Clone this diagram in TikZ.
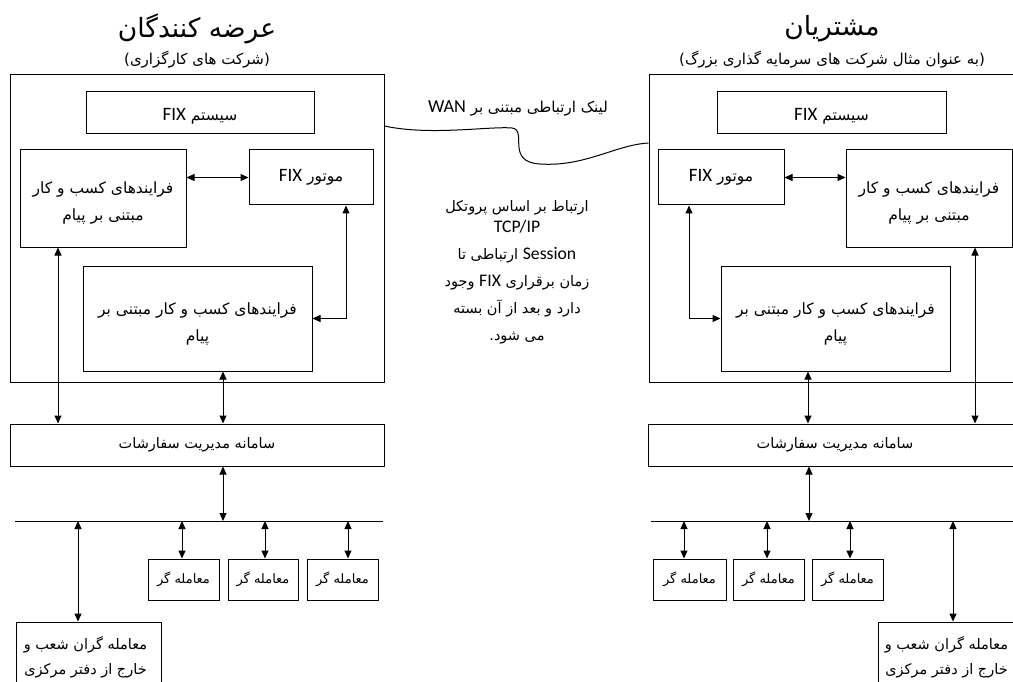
\documentclass[tikz,border=0pt]{standalone}
\usepackage{fontspec}
\usetikzlibrary{arrows.meta}
\TeXXeTstate=1
\newfontfamily\fa[Script=Arabic]{DejaVu Sans}
\newfontfamily\la[Scale=1.22]{Carlito}
\newcommand\FA[1]{{\fa\beginR #1\endR}}
\newcommand\LA[1]{\beginL{\la #1}\endL}
\tikzset{
  box/.style={draw, line width=1pt, inner sep=0pt, align=center, font=\fa\fontsize{15.5}{27}\selectfont},
  txt/.style={inner sep=0pt, align=center, font=\fa\fontsize{15.5}{27}\selectfont},
  trader/.style={box, minimum height=41pt, font=\fa\fontsize{13}{15}\selectfont},
  link/.style={line width=1pt, <->, >={Triangle[length=8pt,width=7pt]}},
  wire/.style={line width=1pt},
}
\begin{document}
\begin{tikzpicture}[x=1pt,y=-1pt]
\useasboundingbox (0,0) rectangle (1013,682);
\clip (0,0) rectangle (1013,682);
\fill[white] (0,0) rectangle (1013,682);
% titles
\node[font=\fa\fontsize{26.5}{30}\selectfont] (titleL) at (197,29) {\FA{عرضه کنندگان}};
\node[font=\fa\fontsize{15}{18}\selectfont] (subL) at (197,60) {\FA{(شرکت های کارگزاری)}};
\node[font=\fa\fontsize{26.5}{30}\selectfont] (titleR) at (832,29) {\FA{مشتریان}};
\node[font=\fa\fontsize{15}{18}\selectfont] (subR) at (832,60) {\FA{(به عنوان مثال شرکت های سرمایه گذاری بزرگ)}};
% left side
\node[box, minimum width=374pt, minimum height=307pt] (outerL) at (197,228.5) {};
\node[box, minimum width=228pt, minimum height=42pt] (sysL) at (200,113) {};
\node[txt] (sysLt) at ([yshift=-3pt]sysL.center) {\FA{سیستم \LA{FIX}}};
\node[box, minimum width=166pt, minimum height=97pt] (bpL) at (103,198.5) {};
\node[txt] (bpLt) at ([yshift=-5pt]bpL.center) {\FA{فرایندهای کسب و کار}\\\FA{مبتنی بر پیام}};
\node[box, minimum width=124pt, minimum height=55pt] (engL) at (311,177.5) {\FA{موتور \LA{FIX}}};
\node[box, minimum width=229pt, minimum height=105pt] (lbpL) at (197.5,318.5) {};
\node[txt] (lbpLt) at ([yshift=-6pt]lbpL.center) {\FA{فرایندهای کسب و کار مبتنی بر}\\\FA{پیام}};
\node[box, minimum width=374pt, minimum height=42pt, font=\fa\fontsize{14.5}{17}\selectfont] (omsL) at (197,445) {\FA{سامانه مدیریت سفارشات}};
\coordinate (busL1) at (15,521);
\coordinate (busL2) at (383,521);
\draw[wire] (busL1) -- (busL2);
\node[trader, minimum width=71pt] (tL1) at (183.5,579.5) {\FA{معامله گر}};
\node[trader, minimum width=70pt] (tL2) at (263,579.5) {\FA{معامله گر}};
\node[trader, minimum width=71pt] (tL3) at (342.5,579.5) {\FA{معامله گر}};
\node[box, minimum width=145pt, minimum height=71pt] (brL) at (88.5,657.5) {};
\node[txt, font=\fa\fontsize{14.5}{25}\selectfont] (brLt) at ([xshift=-3pt]brL.center) {\FA{معامله گران شعب و}\\\FA{خارج از دفتر مرکزی}};
% left connectors
\draw[link] (engL.west) -- (engL.west -| bpL.east);
\draw[link] ([xshift=35pt]engL.south) |- (lbpL.east);
\draw[link] ([xshift=-45pt]bpL.south) -- ([xshift=-45pt]bpL.south |- omsL.north);
\draw[link] ([xshift=25.5pt]lbpL.south) -- ([xshift=25.5pt]lbpL.south |- omsL.north);
\draw[link] ([xshift=26pt]omsL.south) -- ([xshift=26pt]omsL.south |- busL1);
\draw[link] ([xshift=-1.5pt]tL1.north |- busL1) -- ([xshift=-1.5pt]tL1.north);
\draw[link] ([xshift=2pt]tL2.north |- busL1) -- ([xshift=2pt]tL2.north);
\draw[link] ([xshift=5.5pt]tL3.north |- busL1) -- ([xshift=5.5pt]tL3.north);
\draw[link] ([xshift=-10.5pt]brL.north |- busL1) -- ([xshift=-10.5pt]brL.north);
% right side
\node[box, minimum width=374pt, minimum height=307pt] (outerR) at (836,228.5) {};
\node[box, minimum width=229pt, minimum height=42pt] (sysR) at (831.5,113) {};
\node[txt] (sysRt) at ([yshift=-3pt]sysR.center) {\FA{سیستم \LA{FIX}}};
\node[box, minimum width=126pt, minimum height=55pt] (engR) at (721,177.5) {\FA{موتور \LA{FIX}}};
\node[box, minimum width=166pt, minimum height=97pt] (bpR) at (929,198.5) {};
\node[txt] (bpRt) at ([yshift=-5pt]bpR.center) {\FA{فرایندهای کسب و کار}\\\FA{مبتنی بر پیام}};
\node[box, minimum width=229pt, minimum height=105pt] (lbpR) at (835.5,318.5) {};
\node[txt] (lbpRt) at ([yshift=-6pt]lbpR.center) {\FA{فرایندهای کسب و کار مبتنی بر}\\\FA{پیام}};
\node[box, minimum width=374pt, minimum height=42pt, font=\fa\fontsize{14.5}{17}\selectfont] (omsR) at (835,445) {\FA{سامانه مدیریت سفارشات}};
\coordinate (busR1) at (651,521);
\coordinate (busR2) at (1020,521);
\draw[wire] (busR1) -- (busR2);
\node[trader, minimum width=73pt] (tR1) at (689.5,579.5) {\FA{معامله گر}};
\node[trader, minimum width=71pt] (tR2) at (768.5,579.5) {\FA{معامله گر}};
\node[trader, minimum width=71pt] (tR3) at (847.5,579.5) {\FA{معامله گر}};
\node[box, minimum width=145pt, minimum height=71pt] (brR) at (950.5,657.5) {};
\node[txt, font=\fa\fontsize{14.5}{25}\selectfont] (brRt) at ([xshift=-4pt]brR.center) {\FA{معامله گران شعب و}\\\FA{خارج از دفتر مرکزی}};
% right connectors
\draw[link] (engR.east) -- (engR.east -| bpR.west);
\draw[link] ([xshift=-32pt]engR.south) |- (lbpR.west);
\draw[link] ([xshift=46pt]bpR.south) -- ([xshift=46pt]bpR.south |- omsR.north);
\draw[link] ([xshift=-27.5pt]lbpR.south) -- ([xshift=-27.5pt]lbpR.south |- omsR.north);
\draw[link] ([xshift=-26pt]omsR.south) -- ([xshift=-26pt]omsR.south |- busR1);
\draw[link] ([xshift=-5.5pt]tR1.north |- busR1) -- ([xshift=-5.5pt]tR1.north);
\draw[link] ([xshift=-1.5pt]tR2.north |- busR1) -- ([xshift=-1.5pt]tR2.north);
\draw[link] ([xshift=2.5pt]tR3.north |- busR1) -- ([xshift=2.5pt]tR3.north);
\draw[link] ([xshift=2.5pt]brR.north |- busR1) -- ([xshift=2.5pt]brR.north);
% WAN link
\coordinate (wanA) at (outerL.east |- 0,126);
\coordinate (wanB) at (outerR.west |- 0,143);
\draw[wire] (wanA) .. controls (430,136) and (490,126) .. (512,128)
  .. controls (528,130) and (505,162) .. (540,164)
  .. controls (585,167) and (615,145) .. (wanB);
\node[font=\fa\fontsize{15}{18}\selectfont] (wanlbl) at (518,108) {\FA{لینک ارتباطی مبتنی بر \LA{WAN}}};
\node[align=center, font=\fa\fontsize{14.5}{27}\selectfont] (note) at (517,272)
  {\FA{ارتباط بر اساس پروتکل}\\[-6pt]\LA{TCP/IP}\\\FA{\LA{Session} ارتباطی تا}\\\FA{زمان برقراری \LA{FIX} وجود}\\\FA{دارد و بعد از آن بسته}\\\FA{می شود.}};
\end{tikzpicture}
\end{document}
